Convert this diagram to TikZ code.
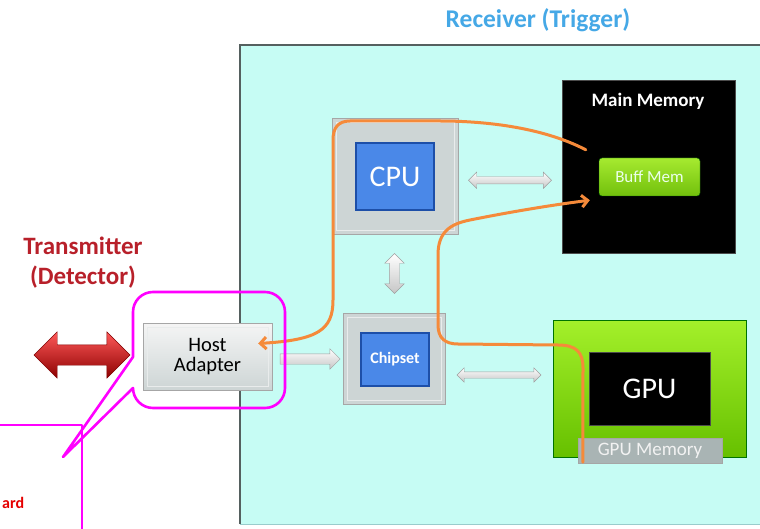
\documentclass[tikz,border=0pt]{standalone}
\usepackage{fontspec}
\setmainfont{Carlito}
\usetikzlibrary{arrows.meta,shapes.arrows,positioning,calc}

\definecolor{rxbg}{HTML}{C6FCF4}
\definecolor{rxedge}{HTML}{55605F}
\definecolor{boxgray}{HTML}{CDD5D5}
\definecolor{chipblue}{HTML}{4A88E8}
\definecolor{chipedge}{HTML}{1D4FA8}
\definecolor{wireorange}{HTML}{F58A3A}
\definecolor{callmag}{HTML}{FF00FF}
\definecolor{rxtitle}{HTML}{45A8E6}
\definecolor{txtitle}{HTML}{B8202A}
\definecolor{boardtop}{HTML}{A4F02A}
\definecolor{boardbot}{HTML}{66C000}
\definecolor{bufftop}{HTML}{A6EA30}
\definecolor{buffbot}{HTML}{72C00C}
\definecolor{memgray}{HTML}{A9B4B4}

\tikzset{
  fs/.style={font=\fontsize{#1}{#1}\selectfont},
  fsb/.style={font=\bfseries\fontsize{#1}{#1}\selectfont},
  graybox/.style={fill=boxgray, draw=gray!70, inner sep=0pt,
    path picture={\draw[white!55!boxgray, line width=0.6pt]
      ($(path picture bounding box.north west)+(4,4)$) rectangle
      ($(path picture bounding box.south east)+(-4,-4)$);}},
  bluebox/.style={fill=chipblue, draw=chipedge, line width=1.2pt, inner sep=0pt,
    text=white},
  blackbox/.style={fill=black, draw=gray!60!black, inner sep=0pt, text=white},
  grayarrow/.style={double arrow, draw=gray!75, inner xsep=0pt, inner ysep=3.5pt,
    top color=white, bottom color=gray!45, double arrow head extend=4.5pt},
  wire/.style={draw=wireorange, line width=3pt, line cap=round},
  callout/.style={draw=callmag, line width=2.6pt, line cap=round, line join=round},
}

\begin{document}
\begin{tikzpicture}[x=1pt, y=-1pt]
  \useasboundingbox (0,0) rectangle (760,529);

  % receiver side panel
  \fill[rxbg] (240,45) rectangle (762,524);
  \draw[rxedge, line width=1.2pt] (240,524) -- (240,45) -- (762,45);
  \draw[teal!40, line width=1pt] (240,524) -- (762,524);
  \node[fsb=25.5, text=rxtitle] (rxlabel) at (538,20) {Receiver (Trigger)};

  % transmitter side
  \node[fsb=25, text=txtitle, align=center] (txlabel) at (83,263)
    {Transmitter\\[5pt](Detector)};
  \node[double arrow, minimum height=96, inner xsep=0pt, inner ysep=10pt,
    double arrow head extend=13pt, draw=red!50!black,
    top color=red!65!white, bottom color=red!55!black] (link) at (82,355) {};

  % host adapter
  \node[graybox, minimum width=129, minimum height=67, fs=20.5, align=center,
    top color=gray!8, bottom color=boxgray] (host) at (207.5,356.5) {Host\\Adapter};

  % cpu
  \node[graybox, minimum width=126, minimum height=116] (cpubox) at (395,176) {};
  \node[bluebox, minimum width=78, minimum height=67, fs=30]
    (cpu) at (395,176.5) {CPU};

  % chipset
  \node[graybox, minimum width=102, minimum height=91] (chipbox) at (394,358.5) {};
  \node[bluebox, minimum width=68, minimum height=53, fsb=16] (chipset) at (395,359.5) {Chipset};

  % main memory
  \node[blackbox, minimum width=173, minimum height=173] (mainmem) at (648.5,166.5) {};
  \node[fsb=19, text=white] (mmlabel) at (648,101) {Main Memory};
  \node[rounded corners=3pt, minimum width=101, minimum height=38, inner sep=0pt,
    top color=bufftop, bottom color=buffbot,
    draw=green!40!black, fs=17, text=green!8!white] (buff) at (649.5,177) {Buff Mem};

  % gpu board
  \node[minimum width=193, minimum height=137, inner sep=0pt, draw=green!45!black,
    top color=boardtop, bottom color=boardbot] (board) at (649.5,388.5) {};
  \node[blackbox, minimum width=121, minimum height=73, fs=30] (gpu) at (649.5,388.5) {GPU};
  \node[minimum width=144, minimum height=25, inner sep=0pt, fill=memgray,
    draw=gray!70, fs=19, text=white!90!gray] (gpumem) at (650,450.5) {GPU Memory};

  % bus arrows
  \node[grayarrow, minimum height=83] (cpumm) at ($(cpubox.east)!0.5!(mainmem.west)+(0,9)$) {};
  \node[grayarrow, minimum height=40, inner ysep=5pt, rotate=90] (cpuchip) at ($(cpubox.south)!0.5!(chipbox.north)$) {};
  \node[grayarrow, single arrow, single arrow head extend=5pt, minimum height=60,
    inner ysep=5pt] (hostchip) at ($(host.east)!0.5!(chipbox.west)+(0,1.5)$) {};
  \node[grayarrow, minimum height=84, inner ysep=3pt, double arrow head extend=4pt] (chipgpu) at ($(chipbox.east)!0.5!(board.west)+(0,1.5)$) {};

  % data paths
  \coordinate (mmout) at ($(buff.north west)+(-13,-8)$);
  \coordinate (hostin) at ($(host.east)+(-14,-13)$);
  \coordinate (gpuout) at ($(gpumem.south west)+(5,-1)$);
  \coordinate (mmin) at ($(buff.south west)+(-9,4)$);
  \draw[wire, -{Straight Barb[length=6pt,width=12pt]}] (mmout)
    .. controls (540,126) and (480,121) .. (440,121) -- (350,121)
    .. controls (338,121) and (333,128) .. (333,140) -- (333,300)
    .. controls (333,330) and (318,340) .. (hostin);
  \draw[wire, -{Straight Barb[length=6pt,width=12pt]}] (gpuout) -- (583,368)
    .. controls (583,352) and (576,345) .. (558,345) -- (458,344)
    .. controls (445,344) and (438,338) .. (438,325) -- (438,255)
    .. controls (438,232) and (450,224) .. (470,220)
    .. controls (520,210) and (560,204) .. (mmin);

  % host adapter callout
  \draw[callout] (133,357) -- (63,457) -- (133,388)
    [rounded corners=20pt] -- (133,408) -- (285,408) -- (285,292) -- (133,292)
    [sharp corners] -- (133,357);
  \draw[callout] (0,425) -- (82,425) -- (82,532);
  \node[fsb=16, text=red!90!black, anchor=west, inner sep=0pt] (board-label) at (2,503) {ard};
\end{tikzpicture}
\end{document}
